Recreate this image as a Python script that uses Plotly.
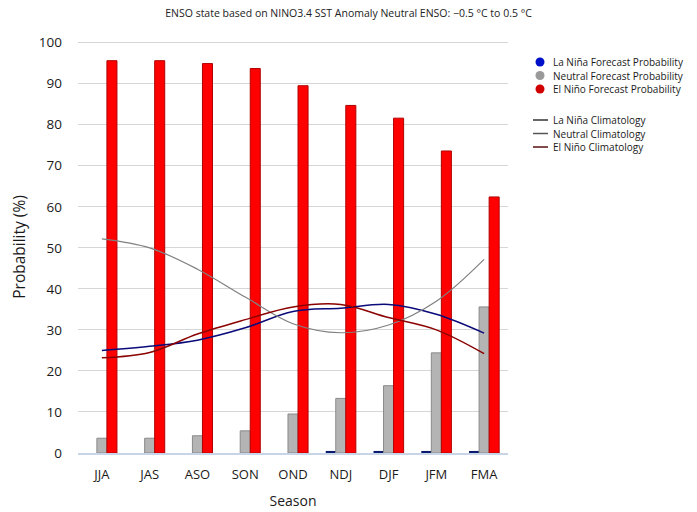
import plotly.graph_objects as go

seasons = ["JJA", "JAS", "ASO", "SON", "OND", "NDJ", "DJF", "JFM", "FMA"]
lanina_prob = [0, 0, 0, 0, 0, 0.5, 0.5, 0.5, 0.5]
neutral_prob = [3.6, 3.6, 4.2, 5.4, 9.5, 13.3, 16.4, 24.4, 35.6]
elnino_prob = [95.6, 95.6, 94.9, 93.7, 89.5, 84.7, 81.6, 73.6, 62.4]

lanina_clim = [25.0, 26.0, 27.5, 30.5, 34.5, 35.3, 36.2, 33.8, 29.2]
neutral_clim = [52.2, 50.0, 44.8, 38.0, 31.5, 29.3, 31.2, 37.0, 47.2]
elnino_clim = [23.2, 24.5, 29.0, 32.5, 35.6, 36.2, 33.0, 30.0, 24.2]

legend_markers = ["La Niña Forecast Probability", "Neutral Forecast Probability",
                  "El Niño Forecast Probability"]
legend_marker_colors = ["#0010c8", "#9a9a9a", "#d00000"]
legend_lines = ["La Niña Climatology", "Neutral Climatology", "El Niño Climatology"]
legend_line_colors = ["#333333", "#555555", "#5a1010"]

FONT = "Open Sans"
W, H = 697, 512
ML, MR, MT, MB = 78, 189, 41, 59
PW, PH = W - ML - MR, H - MT - MB

fig = go.Figure()

fig.add_trace(go.Bar(x=seasons, y=lanina_prob, name=legend_markers[0],
                     marker=dict(color="#0a1a6e", line=dict(width=0))))
fig.add_trace(go.Bar(x=seasons, y=neutral_prob, name=legend_markers[1],
                     marker=dict(color="#b4b4b4", line=dict(color="#8a8a8a", width=1))))
fig.add_trace(go.Bar(x=seasons, y=elnino_prob, name=legend_markers[2],
                     marker=dict(color="#ff0000", line=dict(color="#b00000", width=1))))

fig.add_trace(go.Scatter(x=seasons, y=lanina_clim, mode="lines", line_shape="spline",
                         name=legend_lines[0], line=dict(color="#0a0a7a", width=1.5)))
fig.add_trace(go.Scatter(x=seasons, y=neutral_clim, mode="lines", line_shape="spline",
                         name=legend_lines[1], line=dict(color="#808080", width=1.2)))
fig.add_trace(go.Scatter(x=seasons, y=elnino_clim, mode="lines", line_shape="spline",
                         name=legend_lines[2], line=dict(color="#8b0000", width=1.5)))


def px_x(x):
    return (x - ML) / PW


def px_y(y):
    return (H - MB - y) / PH


# Legend drawn as layout decorations (compact row spacing like the reference)
annotations = []
shapes = []
text_x = 551
row_h = 13.5
for i, (name, col) in enumerate(zip(legend_markers, legend_marker_colors)):
    yy = 62 + i * row_h
    shapes.append(dict(type="circle", xref="paper", yref="paper", xsizemode="pixel",
                       ysizemode="pixel", xanchor=px_x(540), yanchor=px_y(yy),
                       x0=-4.5, x1=4.5, y0=-4.5, y1=4.5,
                       fillcolor=col, line=dict(color=col, width=0)))
    annotations.append(dict(x=px_x(text_x), y=px_y(yy), xref="paper", yref="paper",
                            text=name, showarrow=False, xanchor="left", yanchor="middle",
                            font=dict(size=10, family=FONT, color="#1a1a1a")))
for i, (name, col) in enumerate(zip(legend_lines, legend_line_colors)):
    yy = 120 + i * row_h
    shapes.append(dict(type="line", xref="paper", yref="paper", xsizemode="pixel",
                       ysizemode="pixel", xanchor=px_x(533), yanchor=px_y(yy),
                       x0=0, x1=15, y0=0, y1=0, line=dict(color=col, width=1.5)))
    annotations.append(dict(x=px_x(text_x), y=px_y(yy), xref="paper", yref="paper",
                            text=name, showarrow=False, xanchor="left", yanchor="middle",
                            font=dict(size=10, family=FONT, color="#1a1a1a")))

fig.update_layout(
    width=W, height=H,
    margin=dict(l=ML, r=MR, t=MT, b=MB),
    paper_bgcolor="white", plot_bgcolor="white",
    barmode="group", bargap=0.37, bargroupgap=0.0,
    showlegend=False,
    font=dict(family=FONT, color="#1a1a1a"),
    title=dict(text="ENSO state based on NINO3.4 SST Anomaly Neutral ENSO: \u22120.5 \u00b0C to 0.5 \u00b0C",
               x=0.5, xanchor="center", xref="container",
               y=1 - 10 / H, yanchor="top", yref="container", automargin=False,
               font=dict(size=10.5, family=FONT, color="#222222")),
    annotations=annotations,
    shapes=shapes,
    xaxis=dict(title=dict(text="Season", font=dict(size=14, family=FONT), standoff=14),
               tickfont=dict(size=13, family=FONT), showgrid=False, automargin=False,
               showline=True, linecolor="#c8d4e8", linewidth=1.5, ticks="",
               ticklabelstandoff=9),
    yaxis=dict(title=dict(text="Probability (%)", font=dict(size=15.5, family=FONT), standoff=9),
               range=[0, 100.4], dtick=10, tickfont=dict(size=13.5, family=FONT),
               showgrid=True, gridcolor="#d6d6d6", gridwidth=1, automargin=False,
               zeroline=False, showline=False, ticks="", ticklabelstandoff=15),
)

fig.write_html("out.html", config={"displayModeBar": False},
               post_script="document.body.style.margin='0';")
